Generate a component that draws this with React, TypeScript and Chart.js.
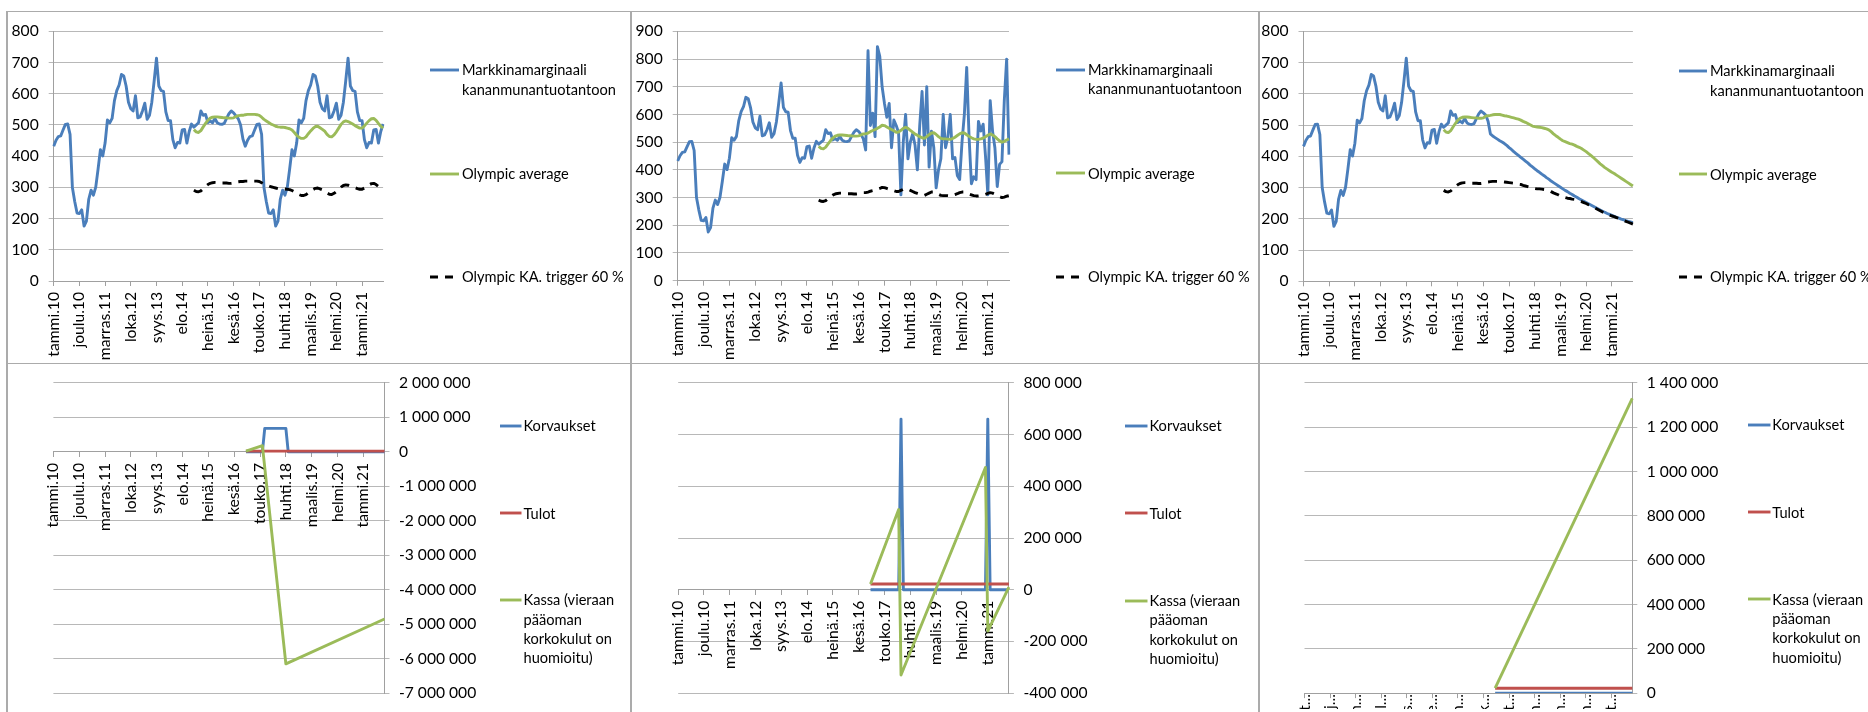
import React, { useEffect, useRef } from 'react';
import { Chart, registerables } from 'chart.js';

Chart.register(...registerables);

// ---------------- categories ----------------
const FI_MONTHS = ['tammi', 'helmi', 'maalis', 'huhti', 'touko', 'kesä', 'heinä', 'elo', 'syys', 'loka', 'marras', 'joulu'];
const FIRST_YEAR = 10;
const MONTH_COUNT = 142;
const MONTHS: string[] = Array.from({ length: MONTH_COUNT }, (_, i) => `${FI_MONTHS[i % 12]}.${FIRST_YEAR + Math.floor(i / 12)}`);
const TICK_LABELS = ['tammi.10', 'joulu.10', 'marras.11', 'loka.12', 'syys.13', 'elo.14', 'heinä.15', 'kesä.16', 'touko.17', 'huhti.18', 'maalis.19', 'helmi.20', 'tammi.21'];

const TOP_LEGEND_LINES = [['Markkinamarginaali', 'kananmunantuotantoon'], ['Olympic average'], ['Olympic KA. trigger 60 %']];
const BOTTOM_LEGEND_LINES = [['Korvaukset'], ['Tulot'], ['Kassa (vieraan', 'pääoman', 'korkokulut on', 'huomioitu)']];

// ---------------- top row values ----------------
// Markkinamarginaali, shared history tammi.10 .. kesä.16
const MARGIN_BASE = [
  432, 451, 463, 465, 484, 502, 503, 470, 300, 255,
  218, 216, 228, 176, 192, 262, 291, 275, 301, 359,
  421, 401, 442, 516, 507, 521, 578, 610, 628, 662,
  657, 625, 573, 552, 545, 594, 523, 526, 545, 570,
  518, 531, 573, 641, 714, 625, 610, 608, 542, 514,
  514, 453, 427, 444, 442, 484, 486, 442, 479, 503,
  493, 500, 507, 545, 531, 534, 508, 513, 507, 521,
  507, 503, 502, 505, 521, 536, 545, 539,
];
// heinä.16 .. loka.21 for each scenario
const MARGIN_TAIL_1 = [
  529, 520, 500, 455,
  432, 451, 463, 465, 484, 502, 503, 470, 300, 255,
  218, 216, 228, 176, 192, 262, 291, 275, 301, 359,
  421, 401, 442, 516, 507, 521, 578, 610, 628, 662,
  657, 625, 573, 552, 545, 594, 523, 526, 545, 570,
  518, 531, 573, 641, 714, 625, 610, 608, 542, 514,
  514, 453, 427, 444, 442, 484, 486, 442, 479, 503,
];
const MARGIN_TAIL_2 = [
  528, 512, 472, 830, 560, 605, 520, 845, 810, 700,
  640, 590, 640, 480, 580, 560, 535, 310, 500, 600,
  440, 500, 530, 490, 400, 560, 683, 490, 700, 410,
  540, 480, 335, 400, 440, 600, 480, 520, 600, 440,
  445, 380, 365, 500, 600, 770, 520, 350, 375, 365,
  575, 540, 565, 450, 310, 650, 540, 480, 340, 420,
  430, 650, 800, 455,
];
const MARGIN_TAIL_3 = [
  532, 512, 472, 465, 460, 455, 450, 446, 441, 435,
  428, 422, 415, 409, 403, 397, 391, 385, 379, 372,
  366, 360, 354, 349, 343, 338, 332, 327, 321, 316,
  311, 306, 301, 296, 291, 287, 282, 278, 273, 269,
  264, 260, 256, 252, 248, 244, 240, 236, 232, 228,
  224, 221, 217, 214, 211, 208, 205, 202, 199, 197,
  194, 192, 190, 188,
];

const OLYMPIC_START = 'tammi.15';
const OLYMPIC_BASE = [485, 478, 476, 482, 494, 505, 515, 522, 525, 526, 526, 525, 524, 523, 523, 522, 522, 523];
const OLYMPIC_TAIL_1 = [
  527, 530, 531, 531, 533, 534, 534, 534, 534, 533,
  531, 525, 518, 513, 508, 503, 500, 496, 494, 493,
  493, 492, 490, 488, 484, 476, 467, 461, 457, 457,
  462, 472, 481, 489, 495, 496, 491, 486, 480, 470,
  463, 462, 468, 478, 490, 502, 510, 513, 511, 507,
  503, 498, 494, 490, 490, 497, 506, 514, 520, 521,
  515, 505, 496, 490,
];
const OLYMPIC_TAIL_2 = [
  526, 530, 530, 533, 538, 542, 546, 550, 555, 561,
  560, 555, 550, 546, 541, 536, 537, 543, 550, 554,
  550, 543, 536, 530, 525, 520, 516, 514, 520, 527,
  533, 534, 528, 520, 514, 512, 512, 511, 510, 513,
  518, 524, 530, 534, 533, 527, 521, 516, 512, 510,
  510, 512, 515, 520, 525, 530, 526, 520, 512, 505,
  500, 503, 508, 512,
];
const OLYMPIC_TAIL_3 = [
  529, 530, 531, 533, 534, 534, 534, 532, 530, 529,
  527, 525, 523, 521, 519, 516, 512, 509, 505, 501,
  497, 495, 494, 493, 492, 490, 488, 485, 479, 472,
  466, 461, 455, 450, 447, 444, 441, 439, 436, 432,
  429, 425, 420, 415, 409, 403, 397, 390, 383, 376,
  370, 364, 359, 354, 349, 345, 340, 335, 330, 325,
  320, 315, 310, 305,
];

const TRIGGER_BASE = [291, 287, 286, 289, 296, 303, 309, 313, 315, 316, 316, 315, 314, 314, 314, 313, 313, 314];
const TRIGGER_TAIL_1 = [
  316, 318, 319, 319, 320, 320, 320, 320, 320, 320,
  319, 315, 311, 308, 305, 302, 300, 298, 296, 296,
  296, 295, 294, 293, 290, 286, 280, 277, 274, 274,
  277, 283, 289, 293, 297, 298, 295, 292, 288, 282,
  278, 277, 281, 287, 294, 301, 306, 308, 307, 304,
  302, 299, 296, 294, 294, 298, 304, 308, 312, 313,
  309, 303, 298, 294,
];
const TRIGGER_TAIL_2 = [
  316, 318, 318, 320, 323, 325, 328, 330, 333, 337,
  336, 333, 330, 328, 325, 322, 322, 326, 330, 332,
  330, 326, 322, 318, 315, 312, 310, 308, 312, 316,
  320, 320, 317, 312, 308, 307, 307, 307, 306, 308,
  311, 314, 318, 320, 320, 316, 313, 310, 307, 306,
  306, 307, 309, 312, 315, 318, 316, 312, 307, 303,
  300, 302, 305, 307,
];
const TRIGGER_TAIL_3 = [
  317, 318, 319, 320, 320, 320, 320, 319, 318, 317,
  316, 315, 314, 313, 311, 310, 307, 305, 303, 301,
  298, 297, 296, 296, 295, 294, 293, 291, 287, 283,
  280, 277, 273, 270, 268, 266, 265, 263, 262, 259,
  257, 255, 252, 249, 245, 242, 238, 234, 230, 226,
  222, 218, 215, 212, 209, 207, 204, 201, 198, 195,
  192, 189, 186, 183,
];

// ---------------- bottom row values (month, value) ----------------
const KORV_1_MONTHS = ['marras.16', 'kesä.17', 'heinä.17', 'huhti.18', 'touko.18', 'loka.21'];
const KORV_1 = [0, 0, 680000, 680000, 0, 0];
const TULOT_1_MONTHS = ['marras.16', 'loka.21'];
const TULOT_1 = [20000, 20000];
const KASSA_1_MONTHS = ['marras.16', 'kesä.17', 'huhti.18', 'loka.21'];
const KASSA_1 = [20000, 180000, -6150000, -4850000];

const KORV_2_MONTHS = ['marras.16', 'marras.17', 'joulu.17', 'tammi.18', 'joulu.20', 'tammi.21', 'helmi.21', 'loka.21'];
const KORV_2 = [0, 0, 660000, 0, 0, 660000, 0, 0];
const TULOT_2_MONTHS = ['marras.16', 'loka.21'];
const TULOT_2 = [22000, 22000];
const KASSA_2_MONTHS = ['marras.16', 'marras.17', 'joulu.17', 'joulu.20', 'tammi.21', 'loka.21'];
const KASSA_2 = [22000, 310000, -330000, 473000, -160000, 10000];

const KORV_3_MONTHS = ['marras.16', 'loka.21'];
const KORV_3 = [0, 0];
const TULOT_3_MONTHS = ['marras.16', 'loka.21'];
const TULOT_3 = [22000, 22000];
const KASSA_3_MONTHS = ['marras.16', 'loka.21'];
const KASSA_3 = [22000, 1330000];

// ---------------- styles ----------------
const BLUE = '#4a7ebb';
const GREEN = '#9bbb59';
const RED = '#c0504d';
const BLACK = '#000000';
const GRID = '#b8b8b8';
const AXIS = '#a0a0a0';
const FRAME = '#ababab';
const TEXT = '#000000';
const FONT_FAMILY = 'Lato, "Noto Sans", sans-serif';

const FONT_PX = (() => {
  try {
    const ctx = document.createElement('canvas').getContext('2d');
    if (!ctx) return 14.5;
    ctx.font = '100px Lato';
    const w = ctx.measureText('kananmunantuotantoon').width;
    const px = (100 * 154) / w;
    return Math.max(12, Math.min(17, px));
  } catch (e) {
    return 14.5;
  }
})();
const TICK_PX = FONT_PX * 1.07;

// ---------------- helpers ----------------
const leadingGap = (label: string) => Array(MONTHS.indexOf(label)).fill(null);
const pts = (months: string[], values: number[]) => months.map((m, k) => ({ x: m, y: values[k] }));
const isTickIdx = (i: number) => TICK_LABELS.includes(MONTHS[i]);
const fmtSpace = (v: any) => {
  const n = Math.round(Number(v));
  const s = Math.abs(n).toString().replace(/\B(?=(\d{3})+(?!\d))/g, ' ');
  return (n < 0 ? '-' : '') + s;
};

const line = (label: string, data: any[], color: string, order: number, dash?: number[]) => ({
  label,
  data,
  borderColor: color,
  backgroundColor: color,
  borderWidth: 2.9,
  borderDash: dash || [],
  order,
  fill: false,
  pointRadius: 0,
  spanGaps: false,
});

const topDatasets = (tail: number[], olyTail: number[], trigTail: number[]) => [
  line(TOP_LEGEND_LINES[0].join(' '), [...MARGIN_BASE, ...tail], BLUE, 3),
  line(TOP_LEGEND_LINES[1][0], [...leadingGap(OLYMPIC_START), ...OLYMPIC_BASE, ...olyTail], GREEN, 2),
  line(TOP_LEGEND_LINES[2][0], [...leadingGap(OLYMPIC_START), ...TRIGGER_BASE, ...trigTail], BLACK, 1, [9, 7]),
];

const bottomDatasets = (km: string[], kv: number[], tm: string[], tv: number[], sm: string[], sv: number[]) => [
  line(BOTTOM_LEGEND_LINES[0][0], pts(km, kv), BLUE, 3),
  line(BOTTOM_LEGEND_LINES[1][0], pts(tm, tv), RED, 2),
  line(BOTTOM_LEGEND_LINES[2].join(' '), pts(sm, sv), GREEN, 1),
];

type Box = { x: number; y: number; w: number; h: number };
type Area = { l: number; t: number; r: number; b: number };

function makeConfig(p: any) {
  const c: Box = p.canvas;
  const a: Area = p.area;
  const font = { family: FONT_FAMILY, size: TICK_PX };
  const top = p.side === 'top';
  const padding = top
    ? { left: 0, top: a.t - c.y, right: c.x + c.w - a.r, bottom: 0 }
    : { left: a.l - c.x, top: a.t - c.y, right: 0, bottom: p.xAtZero ? c.y + c.h - a.b : 0 };
  const xScale: any = {
    type: 'category',
    position: p.xAtZero ? { y: 0 } : 'bottom',
    offset: false,
    grid: {
      display: true,
      drawOnChartArea: false,
      drawTicks: true,
      tickLength: 5,
      lineWidth: 1,
      color: (ctx: any) => (isTickIdx(ctx.index) ? AXIS : 'rgba(0,0,0,0)'),
    },
    border: { display: true, color: AXIS, width: 1 },
    ticks: {
      autoSkip: false,
      maxRotation: 90,
      minRotation: 90,
      padding: p.shortLabels ? -4 : 6,
      color: TEXT,
      font,
      callback: (_v: any, i: number) => (isTickIdx(i) ? (p.shortLabels ? MONTHS[i].charAt(0) + '...' : MONTHS[i]) : ''),
    },
    afterFit: (s: any) => {
      if (!p.xAtZero) s.height = c.y + c.h - a.b;
    },
  };
  const yScale: any = {
    type: 'linear',
    position: top ? 'left' : 'right',
    min: p.y.min,
    max: p.y.max,
    grid: { color: GRID, lineWidth: 1, drawTicks: true, tickLength: 5 },
    border: { display: true, color: AXIS, width: 1 },
    ticks: {
      stepSize: p.y.step,
      padding: top ? 10 : 9.5,
      color: TEXT,
      font,
      callback: top ? (v: any) => String(v) : fmtSpace,
    },
    afterFit: (s: any) => {
      s.width = top ? a.l - c.x : c.x + c.w - a.r;
    },
  };
  return {
    type: 'line',
    data: { labels: MONTHS, datasets: p.datasets() },
    options: {
      responsive: false,
      animation: false,
      events: [],
      layout: { padding },
      plugins: { legend: { display: false }, tooltip: { enabled: false } },
      elements: { point: { radius: 0, hoverRadius: 0 }, line: { tension: 0, borderJoinStyle: 'round', borderCapStyle: 'butt' } },
      scales: { x: xScale, y: yScale },
    },
  };
}

const PANELS = [
  {
    key: 'p1', side: 'top',
    canvas: { x: 8, y: 12, w: 622, h: 350 }, area: { l: 53.7, t: 26, r: 383.1, b: 281 },
    y: { min: 0, max: 800, step: 100 },
    datasets: () => topDatasets(MARGIN_TAIL_1, OLYMPIC_TAIL_1, TRIGGER_TAIL_1),
    legend: { x1: 430, x2: 459, tx: 462, ys: [70, 173.5, 277], lines: TOP_LEGEND_LINES, colors: [BLUE, GREEN, BLACK] },
  },
  {
    key: 'p2', side: 'top',
    canvas: { x: 632, y: 12, w: 625, h: 350 }, area: { l: 677.7, t: 25, r: 1009, b: 280.7 },
    y: { min: 0, max: 900, step: 100 },
    datasets: () => topDatasets(MARGIN_TAIL_2, OLYMPIC_TAIL_2, TRIGGER_TAIL_2),
    legend: { x1: 1056, x2: 1085, tx: 1088, ys: [69.5, 173.3, 276.5], lines: TOP_LEGEND_LINES, colors: [BLUE, GREEN, BLACK] },
  },
  {
    key: 'p3', side: 'top',
    canvas: { x: 1260, y: 12, w: 608, h: 350 }, area: { l: 1303.5, t: 27.2, r: 1632.9, b: 281.3 },
    y: { min: 0, max: 800, step: 100 },
    datasets: () => topDatasets(MARGIN_TAIL_3, OLYMPIC_TAIL_3, TRIGGER_TAIL_3),
    legend: { x1: 1679, x2: 1707, tx: 1710, ys: [71, 174.3, 276.7], lines: TOP_LEGEND_LINES, colors: [BLUE, GREEN, BLACK] },
  },
  {
    key: 'p4', side: 'bottom', xAtZero: true,
    canvas: { x: 8, y: 364, w: 622, h: 348 }, area: { l: 53.4, t: 374, r: 384.5, b: 697.3 },
    y: { min: -7000000, max: 2000000, step: 1000000 },
    datasets: () => bottomDatasets(KORV_1_MONTHS, KORV_1, TULOT_1_MONTHS, TULOT_1, KASSA_1_MONTHS, KASSA_1),
    legend: { x1: 500, x2: 521.5, tx: 523.5, ys: [426, 513.3, 600], lines: BOTTOM_LEGEND_LINES, colors: [BLUE, RED, GREEN] },
  },
  {
    key: 'p5', side: 'bottom', xAtZero: true,
    canvas: { x: 632, y: 364, w: 625, h: 348 }, area: { l: 678.2, t: 374, r: 1008.9, b: 698.3 },
    y: { min: -400000, max: 800000, step: 200000 },
    datasets: () => bottomDatasets(KORV_2_MONTHS, KORV_2, TULOT_2_MONTHS, TULOT_2, KASSA_2_MONTHS, KASSA_2),
    legend: { x1: 1125, x2: 1147.5, tx: 1149.5, ys: [426, 513.3, 600.7], lines: BOTTOM_LEGEND_LINES, colors: [BLUE, RED, GREEN] },
  },
  {
    key: 'p6', side: 'bottom', shortLabels: true,
    canvas: { x: 1260, y: 364, w: 608, h: 348 }, area: { l: 1304.5, t: 374, r: 1632.3, b: 696 },
    y: { min: 0, max: 1400000, step: 200000 },
    datasets: () => bottomDatasets(KORV_3_MONTHS, KORV_3, TULOT_3_MONTHS, TULOT_3, KASSA_3_MONTHS, KASSA_3),
    legend: { x1: 1747.5, x2: 1770, tx: 1772.3, ys: [425, 512.3, 599.3], lines: BOTTOM_LEGEND_LINES, colors: [BLUE, RED, GREEN] },
  },
];

const FRAME_LINES = [
  { x: 7, y: 11, w: 1861, h: 1 },
  { x: 7, y: 363, w: 1861, h: 1 },
  { x: 6, y: 11, w: 2, h: 701 },
  { x: 630, y: 11, w: 2, h: 701 },
  { x: 1258, y: 11, w: 2, h: 701 },
];

const LEGEND_LH = 19.3;

function ChartCanvas({ panel }: { panel: any }) {
  const ref = useRef<HTMLCanvasElement>(null);
  useEffect(() => {
    if (!ref.current) return;
    const chart = new Chart(ref.current, makeConfig(panel) as any);
    return () => chart.destroy();
  }, [panel]);
  const c = panel.canvas;
  return (
    <canvas
      ref={ref}
      width={c.w}
      height={c.h}
      style={{ position: 'absolute', left: c.x, top: c.y, width: c.w, height: c.h }}
    />
  );
}

function Legend({ spec }: { spec: any }) {
  return (
    <>
      {spec.lines.map((lines: string[], k: number) => {
        const y = spec.ys[k];
        const dashed = spec.colors[k] === BLACK;
        return (
          <React.Fragment key={k}>
            <svg
              width={spec.x2 - spec.x1}
              height={6}
              style={{ position: 'absolute', left: spec.x1, top: y - 3, overflow: 'visible' }}
            >
              <line
                x1={0}
                y1={3}
                x2={spec.x2 - spec.x1}
                y2={3}
                stroke={spec.colors[k]}
                strokeWidth={2.9}
                strokeDasharray={dashed ? '8 7' : undefined}
              />
            </svg>
            <div
              style={{
                position: 'absolute',
                left: spec.tx,
                top: y - LEGEND_LH / 2,
                fontFamily: FONT_FAMILY,
                fontSize: FONT_PX,
                lineHeight: `${LEGEND_LH}px`,
                color: TEXT,
                whiteSpace: 'nowrap',
              }}
            >
              {lines.map((t, j) => (
                <div key={j}>{t}</div>
              ))}
            </div>
          </React.Fragment>
        );
      })}
    </>
  );
}

export default function App() {
  return (
    <div
      style={{
        position: 'absolute',
        left: 0,
        top: 0,
        width: 1868,
        height: 712,
        overflow: 'hidden',
        background: '#ffffff',
      }}
    >
      {PANELS.map((p) => (
        <ChartCanvas key={p.key} panel={p} />
      ))}
      {PANELS.map((p) => (
        <Legend key={p.key + 'l'} spec={p.legend} />
      ))}
      {FRAME_LINES.map((f, i) => (
        <div key={i} style={{ position: 'absolute', left: f.x, top: f.y, width: f.w, height: f.h, background: FRAME }} />
      ))}
    </div>
  );
}
